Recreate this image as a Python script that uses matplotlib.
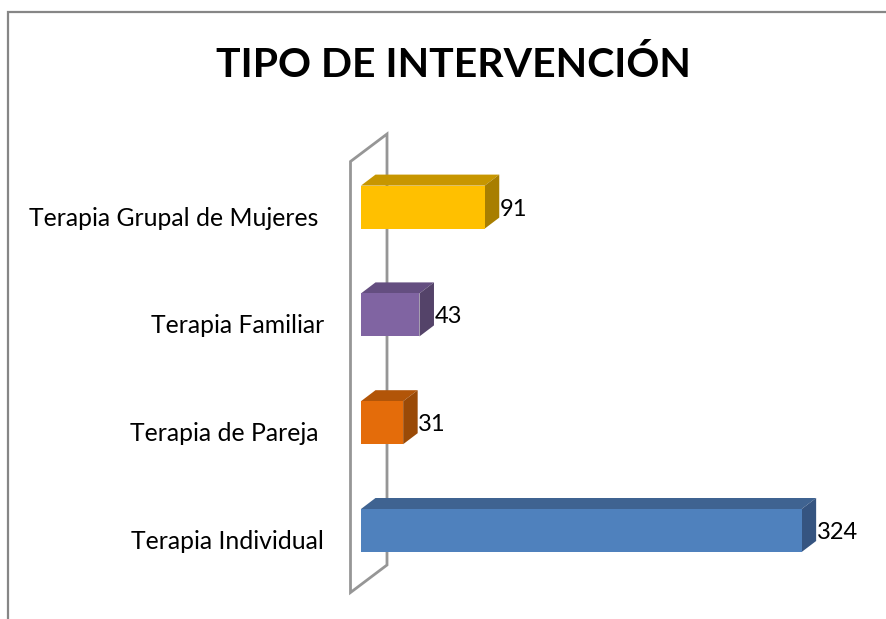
import matplotlib
matplotlib.use("Agg")
import matplotlib.pyplot as plt
from matplotlib.patches import Polygon
from matplotlib.lines import Line2D

categories = ["Terapia Individual", "Terapia de Pareja ", "Terapia Familiar", "Terapia Grupal de Mujeres "]
values = [324, 31, 43, 91]
front_colors = ["#4F81BD", "#E46C0A", "#8064A2", "#FFC000"]
top_colors = ["#3F6391", "#B25508", "#644E80", "#C79600"]
side_colors = ["#355480", "#9A4A07", "#544369", "#A87E00"]
label_right_px = [324, 318, 324, 318]
title = "TIPO DE INTERVENCIÓN"

W, H = 886, 619
X0, Y0 = 361.0, 530.5
SX, SY = 1.3600, 107.8
DX, DY = 14.5 / SX, 11 / SY
BAR = 43 / SY

plt.rcParams["font.family"] = ["Lato", "DejaVu Sans"]
fig = plt.figure(figsize=(W / 100, H / 100), dpi=100, facecolor="white")
ax = fig.add_axes([0, 0, 1, 1])
ax.set_xlim(-X0 / SX, (W - X0) / SX)
ax.set_ylim((Y0 - H) / SY, Y0 / SY)
ax.axis("off")

# outer chart frame (top and left only)
fig.add_artist(Line2D([8 / W, 8 / W, 1], [0, 1 - 12 / H, 1 - 12 / H], color="#868686", lw=1.6, solid_joinstyle="miter"))

# back wall of the 3D chart
wx0 = (350.5 - X0) / SX
wx1 = (387 - X0) / SX
wall = Polygon([(wx0, (Y0 - 592.5) / SY), (wx0, (Y0 - 161.5) / SY),
                (wx1, (Y0 - 134) / SY), (wx1, (Y0 - 565) / SY)],
               closed=True, fill=False, edgecolor="#969696", lw=2.0, zorder=1)
ax.add_patch(wall)

for i, (cat, v) in enumerate(zip(categories, values)):
    t = i + BAR / 2
    b = i - BAR / 2
    ax.add_patch(Polygon([(0, t), (DX, t + DY), (v + DX, t + DY), (v, t)], closed=True,
                         facecolor=top_colors[i], edgecolor="none", zorder=3))
    ax.add_patch(Polygon([(v, b), (v + DX, b + DY), (v + DX, t + DY), (v, t)], closed=True,
                         facecolor=side_colors[i], edgecolor="none", zorder=3))
    ax.barh(i, v, height=BAR, color=front_colors[i], edgecolor="none", zorder=4)
    ax.annotate(str(v), (v, i), xytext=(15, -2), textcoords="offset pixels",
                ha="left", va="center", fontsize=17, color="black", zorder=5)
    ax.text((label_right_px[i] - X0) / SX, i - 11 / SY, cat.rstrip(), ha="right", va="center",
            fontsize=17.8, color="black")

fig.text(453 / W, 1 - 65 / H, title, ha="center", va="center", fontsize=29.5, fontweight="bold", color="black")

fig.savefig("out.png", dpi=100, facecolor="white")
